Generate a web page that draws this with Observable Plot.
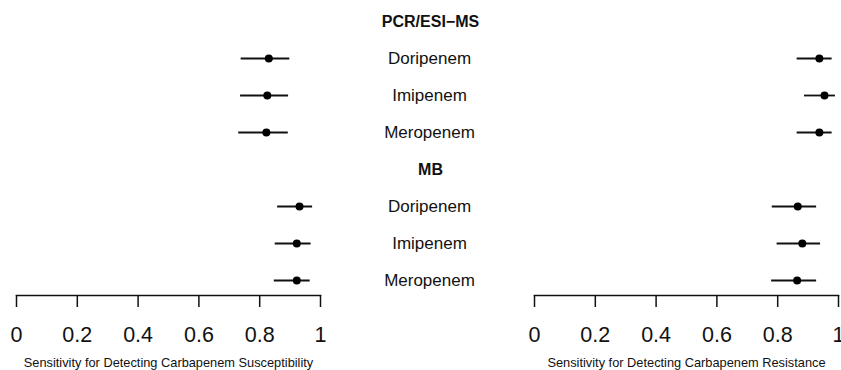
<!DOCTYPE html>
<html>
<head>
<meta charset="utf-8">
<script src="https://cdn.jsdelivr.net/npm/d3@7"></script>
<script src="https://cdn.jsdelivr.net/npm/@observablehq/plot@0.6"></script>
<style>
  html, body { margin: 0; padding: 0; background: #fff; }
</style>
</head>
<body>
<div id="chart"></div>
<script>
// ---- data ----
const panels = [
  "Sensitivity for Detecting Carbapenem Susceptibility",
  "Sensitivity for Detecting Carbapenem Resistance"
];
const methods = ["PCR/ESI−MS", "MB"];
const drugs = ["Doripenem", "Imipenem", "Meropenem"];

// order: PCR/ESI-MS (Dori, Imi, Mero), MB (Dori, Imi, Mero)
const suscEst = [0.830, 0.825, 0.822, 0.931, 0.922, 0.922];
const suscLo  = [0.739, 0.737, 0.731, 0.859, 0.851, 0.848];
const suscHi  = [0.899, 0.895, 0.894, 0.974, 0.969, 0.966];

const resEst = [0.937, 0.954, 0.937, 0.866, 0.881, 0.864];
const resLo  = [0.864, 0.888, 0.864, 0.782, 0.798, 0.780];
const resHi  = [0.979, 0.990, 0.979, 0.928, 0.941, 0.928];

const tickValues = [0, 0.2, 0.4, 0.6, 0.8, 1];
const tickLabels = ["0", "0.2", "0.4", "0.6", "0.8", "1"];

// ---- build tables ----
const yKeys = [];
const headerRows = [];
const drugRows = [];
methods.forEach(m => {
  yKeys.push(m);
  headerRows.push({key: m, label: m, panel: panels[0]});
  drugs.forEach(d => {
    const k = m + "|" + d;
    yKeys.push(k);
    drugRows.push({key: k, label: d, panel: panels[0]});
  });
});

const rows = [];
const series = [[suscEst, suscLo, suscHi], [resEst, resLo, resHi]];
panels.forEach((p, pi) => {
  const [est, lo, hi] = series[pi];
  let i = 0;
  methods.forEach(m => drugs.forEach(d => {
    rows.push({panel: p, key: m + "|" + d, est: est[i], lo: lo[i], hi: hi[i]});
    i++;
  }));
});

const chart = Plot.plot({
  width: 841,
  height: 370,
  marginLeft: 15,
  marginRight: 3,
  marginTop: 19,
  marginBottom: 75,
  style: {fontFamily: "'Liberation Sans', Arial, sans-serif", color: "#111", background: "#fff"},
  fx: {domain: panels, paddingInner: 0.414, paddingOuter: 0, axis: null, label: null},
  x: {domain: [0, 1], axis: null},
  y: {domain: yKeys, type: "point", padding: 0, insetBottom: 13, axis: null},
  marks: [
    Plot.frame({anchor: "bottom", stroke: "#111", strokeWidth: 1.5}),
    Plot.axisX({
      ticks: tickValues,
      tickFormat: d => tickLabels[tickValues.indexOf(d)],
      tickSize: 12,
      tickPadding: 19,
      fontSize: 21.5,
      strokeWidth: 1.5,
      label: null
    }),
    Plot.axisFx({anchor: "bottom", tickSize: 0, tickPadding: 62, fontSize: 12.8, label: null}),
    Plot.ruleY(rows, {fx: "panel", y: "key", x1: "lo", x2: "hi", stroke: "#111", strokeWidth: 1.8}),
    Plot.dot(rows, {fx: "panel", y: "key", x: "est", r: 4, fill: "#000", stroke: null}),
    Plot.text(headerRows, {fx: "panel", y: "key", text: "label", frameAnchor: "right", dx: 110,
      textAnchor: "middle", fontWeight: "bold", fontSize: 16, fill: "#111"}),
    Plot.text(drugRows, {fx: "panel", y: "key", text: "label", frameAnchor: "right", dx: 109,
      textAnchor: "middle", fontSize: 17, fill: "#111"})
  ]
});
document.getElementById("chart").appendChild(chart);
</script>
</body>
</html>
